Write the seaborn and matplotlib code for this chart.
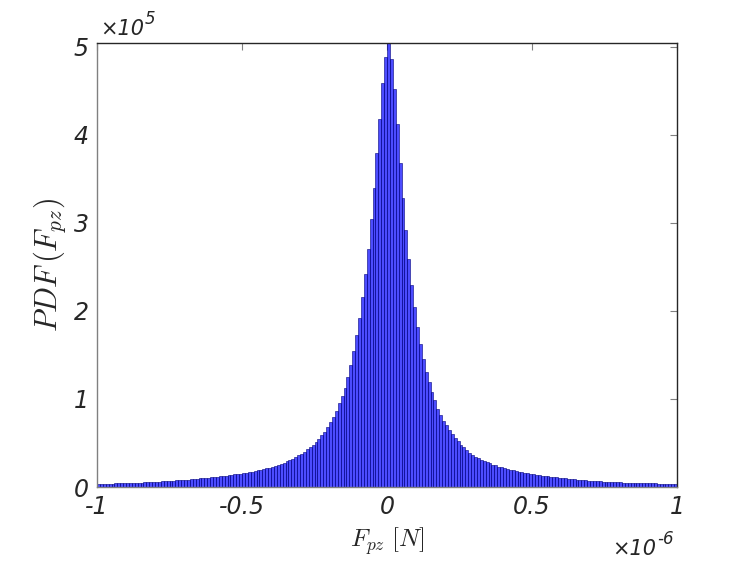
import numpy as np
import pandas as pd
import matplotlib
matplotlib.use('Agg')
import matplotlib.pyplot as plt
import seaborn as sns

# bin range of the force histogram (N), 200 bins of 1e-8 N
x_min, x_max, n_bins = -1e-6, 1e-6, 200

# PDF heights, in units of 1e5, left tail -> peak -> right tail
pdf_left_tail = [
    0.035, 0.036, 0.036, 0.037, 0.038, 0.039, 0.040, 0.041, 0.042, 0.043,
    0.045, 0.046, 0.047, 0.048, 0.050, 0.051, 0.053, 0.054, 0.056, 0.058,
    0.060, 0.062, 0.064, 0.066, 0.068, 0.070, 0.072, 0.074, 0.077, 0.079,
    0.082, 0.085, 0.088, 0.091, 0.094, 0.097, 0.100, 0.103, 0.106, 0.110,
    0.114, 0.118, 0.122, 0.126, 0.130, 0.134, 0.138, 0.143, 0.148, 0.153,
    0.158, 0.164, 0.170, 0.176, 0.183, 0.190, 0.197, 0.205, 0.213, 0.221,
    0.230, 0.240, 0.250, 0.262, 0.275, 0.290, 0.305, 0.322, 0.340, 0.358,
]
pdf_core = [
    0.375, 0.40, 0.43, 0.45, 0.48, 0.51, 0.55, 0.59, 0.63, 0.68,
    0.74, 0.80, 0.86, 0.95, 1.03, 1.13, 1.25, 1.39, 1.54, 1.73,
    1.92, 2.16, 2.42, 2.70, 3.05, 3.40, 3.79, 4.18, 4.59, 4.89,
    5.045,
    4.86, 4.52, 4.12, 3.68, 3.28, 2.92, 2.59, 2.30, 2.04, 1.82,
    1.63, 1.46, 1.31, 1.19, 1.08, 0.99, 0.89, 0.82, 0.75, 0.70,
    0.65, 0.60, 0.56, 0.52, 0.48,
]
pdf_right_tail = [
    0.45, 0.415, 0.385, 0.36, 0.345, 0.325, 0.31, 0.295, 0.28, 0.27,
    0.255, 0.245, 0.232, 0.222, 0.214, 0.206, 0.198, 0.19, 0.182, 0.175,
    0.168, 0.162, 0.156, 0.15, 0.145, 0.14, 0.135, 0.13, 0.126, 0.122,
    0.118, 0.114, 0.11, 0.106, 0.102, 0.098, 0.094, 0.091, 0.088, 0.085,
    0.082, 0.079, 0.076, 0.073, 0.070, 0.068, 0.066, 0.064, 0.062, 0.060,
    0.058, 0.057, 0.055, 0.054, 0.052, 0.051, 0.050, 0.049, 0.048, 0.047,
    0.046, 0.045, 0.044, 0.043, 0.042, 0.041, 0.040, 0.039, 0.038, 0.037,
    0.037, 0.036, 0.036, 0.035,
]

x_ticks = [-1e-6, -0.5e-6, 0, 0.5e-6, 1e-6]
x_tick_labels = ['-1', '-0.5', '0', '0.5', '1']
y_ticks = [0, 1e5, 2e5, 3e5, 4e5, 5e5]
y_tick_labels = ['0', '1', '2', '3', '4', '5']

pdf = np.array(pdf_left_tail + pdf_core + pdf_right_tail) * 1e5
edges = np.linspace(x_min, x_max, n_bins + 1)
centers = (edges[:-1] + edges[1:]) / 2
df = pd.DataFrame({'Fpz': centers, 'pdf': pdf})

sns.set_style('white')
plt.rcParams['mathtext.fontset'] = 'cm'

fig = plt.figure(figsize=(7.47, 5.61), dpi=100)
ax = fig.add_axes([0.1299, 0.1319, 0.7764, 0.7915])

sns.histplot(data=df, x='Fpz', weights='pdf', bins=n_bins, binrange=(x_min, x_max),
             color='blue', alpha=0.7, edgecolor='#00007a', linewidth=0.4, ax=ax)

ax.set_xlim(x_min, x_max)
ax.set_ylim(0, 5.045e5)
ax.set_xticks(x_ticks)
ax.set_xticklabels(x_tick_labels, fontsize=17, fontstyle='italic', color='#262626')
ax.set_yticks(y_ticks)
ax.set_yticklabels(y_tick_labels, fontsize=17, fontstyle='italic', color='#262626')
ax.tick_params(direction='in', length=5, width=0.8, top=True, right=True,
               colors='#808080', labelcolor='#262626', pad=6)

for side in ['left', 'bottom']:
    ax.spines[side].set_color('#808080')
for side in ['top', 'right']:
    ax.spines[side].set_color('#262626')
for s in ax.spines.values():
    s.set_linewidth(1.0)

ax.set_xlabel(r'$F_{pz}\ [N]$', fontsize=18, color='#262626', labelpad=4)
ax.set_ylabel(r'$PDF\,(F_{pz})$', fontsize=22, color='#262626', labelpad=4)


# MATLAB style exponent labels: "x10" with a raised exponent right after it
def exponent_label(x_px, base_y_px, exp):
    renderer = fig.canvas.get_renderer()
    W, H = fig.bbox.width, fig.bbox.height
    t = fig.text(x_px / W, 1 - base_y_px / H, '×10', fontsize=15,
                 fontstyle='italic', color='#262626', ha='left', va='baseline')
    bb = t.get_window_extent(renderer)
    fig.text((bb.x1 + 1) / W, 1 - (base_y_px - 11) / H, exp, fontsize=12,
             fontstyle='italic', color='#262626', ha='left', va='baseline')


exponent_label(100, 35, '5')
exponent_label(612, 555, '-6')

fig.savefig('out.png', dpi=100)
